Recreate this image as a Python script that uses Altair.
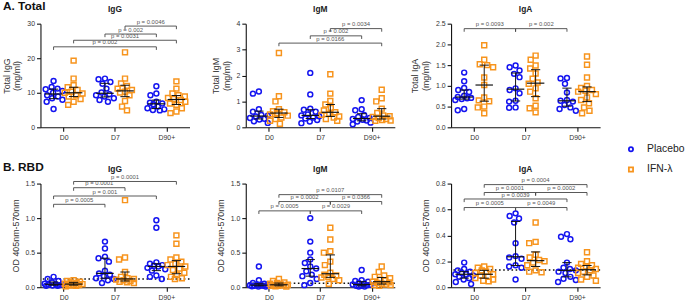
import math
import altair as alt
import pandas as pd

DAYS = ["D0", "D7", "D90+"]
GROUPS = ["Placebo", "IFN-λ"]
COLORS = ["#1414f0", "#f7941d"]
SHAPES = ["circle", "square"]

# ---------------- A. Total (mg/ml) ----------------
total_igg_placebo = {
    "D0": [13.4, 11.7, 11.2, 11.0, 10.5, 10.0, 9.3, 8.9, 8.4, 8.0, 7.4, 5.3],
    "D7": [14.1, 13.9, 13.1, 12.6, 11.2, 10.1, 9.6, 9.3, 8.9, 8.4, 7.9, 7.4],
    "D90+": [11.9, 9.8, 9.3, 7.4, 7.1, 6.9, 6.7, 6.0, 5.5, 5.2, 5.0, 4.9],
}
total_igg_ifn = {
    "D0": [19.3, 14.1, 12.2, 11.6, 10.8, 10.3, 10.0, 9.8, 9.3, 8.9, 8.2, 7.4, 6.5],
    "D7": [21.7, 14.1, 12.7, 12.0, 11.2, 10.8, 10.3, 10.1, 9.3, 7.6, 6.0, 4.9],
    "D90+": [13.3, 11.2, 9.8, 9.3, 8.9, 8.5, 8.2, 7.9, 7.4, 6.9, 6.5, 5.5, 4.6, 4.1],
}
total_igm_placebo = {
    "D0": [1.38, 1.30, 0.70, 0.60, 0.48, 0.45, 0.42, 0.36, 0.33, 0.30, 0.23, 0.17],
    "D7": [2.10, 1.27, 0.72, 0.68, 0.60, 0.50, 0.46, 0.43, 0.38, 0.34, 0.28, 0.22, 0.16],
    "D90+": [1.05, 0.70, 0.66, 0.48, 0.40, 0.36, 0.32, 0.29, 0.26, 0.22, 0.18, 0.12],
}
total_igm_ifn = {
    "D0": [2.87, 1.20, 1.00, 0.70, 0.62, 0.58, 0.55, 0.50, 0.45, 0.38, 0.32, 0.25, 0.14],
    "D7": [2.05, 1.30, 1.02, 0.88, 0.75, 0.65, 0.58, 0.52, 0.48, 0.42, 0.38, 0.32, 0.25],
    "D90+": [1.45, 1.12, 1.00, 0.72, 0.55, 0.46, 0.43, 0.40, 0.36, 0.32, 0.28, 0.26, 0.25],
}
total_iga_placebo = {
    "D0": [1.32, 1.11, 0.95, 0.90, 0.85, 0.76, 0.73, 0.71, 0.70, 0.68, 0.66, 0.44, 0.41],
    "D7": [1.49, 1.45, 1.37, 1.29, 1.21, 0.94, 0.90, 0.82, 0.64, 0.62, 0.48, 0.47],
    "D90+": [1.19, 1.18, 1.05, 0.84, 0.66, 0.64, 0.62, 0.54, 0.48, 0.44, 0.40],
}
total_iga_ifn = {
    "D0": [1.98, 1.63, 1.52, 1.50, 1.45, 1.20, 1.02, 0.72, 0.65, 0.63, 0.50, 0.48, 0.34],
    "D7": [1.73, 1.63, 1.49, 1.42, 1.30, 1.17, 1.08, 1.05, 0.94, 0.86, 0.70, 0.52, 0.46, 0.36],
    "D90+": [1.71, 1.51, 1.20, 1.00, 0.95, 0.90, 0.88, 0.86, 0.80, 0.72, 0.66, 0.58, 0.48, 0.40, 0.34],
}

# ---------------- B. RBD (OD 405nm-570nm) ----------------
rbd_igg_placebo = {
    "D0": [0.15, 0.12, 0.09, 0.07, 0.05, 0.045, 0.04, 0.035, 0.03, 0.025, 0.02, 0.02],
    "D7": [0.66, 0.56, 0.44, 0.42, 0.37, 0.24, 0.20, 0.18, 0.16, 0.13, 0.12, 0.10, 0.06],
    "D90+": [0.97, 0.86, 0.36, 0.34, 0.32, 0.31, 0.30, 0.28, 0.26, 0.24, 0.17, 0.15, 0.12],
}
rbd_igg_ifn = {
    "D0": [0.10, 0.09, 0.08, 0.07, 0.06, 0.05, 0.045, 0.04, 0.035, 0.03, 0.025, 0.02, 0.015],
    "D7": [1.26, 0.43, 0.40, 0.22, 0.15, 0.13, 0.12, 0.11, 0.10, 0.09, 0.08, 0.07, 0.06],
    "D90+": [0.75, 0.63, 0.43, 0.40, 0.37, 0.34, 0.32, 0.30, 0.27, 0.25, 0.21, 0.18, 0.15, 0.13, 0.12],
}
rbd_igm_placebo = {
    "D0": [0.30, 0.10, 0.06, 0.05, 0.04, 0.03, 0.03, 0.025, 0.02, 0.02, 0.015, 0.01, 0.01],
    "D7": [1.00, 0.66, 0.50, 0.40, 0.35, 0.30, 0.27, 0.23, 0.18, 0.16, 0.12, 0.06, 0.03],
    "D90+": [0.25, 0.10, 0.09, 0.08, 0.06, 0.05, 0.04, 0.035, 0.03, 0.02, 0.02, 0.01, 0.01],
}
rbd_igm_ifn = {
    "D0": [0.12, 0.09, 0.07, 0.06, 0.05, 0.04, 0.035, 0.03, 0.025, 0.02, 0.02, 0.015, 0.01],
    "D7": [0.86, 0.69, 0.52, 0.50, 0.37, 0.32, 0.21, 0.18, 0.17, 0.15, 0.14, 0.12, 0.10, 0.05],
    "D90+": [0.30, 0.22, 0.17, 0.15, 0.13, 0.11, 0.10, 0.08, 0.07, 0.06, 0.05, 0.04, 0.03, 0.03, 0.02],
}
rbd_iga_placebo = {
    "D0": [0.19, 0.14, 0.13, 0.12, 0.11, 0.10, 0.10, 0.09, 0.08, 0.07, 0.06, 0.04, 0.025],
    "D7": [0.57, 0.55, 0.53, 0.50, 0.34, 0.24, 0.23, 0.22, 0.17, 0.16, 0.15, 0.06],
    "D90+": [0.41, 0.39, 0.37, 0.19, 0.15, 0.14, 0.13, 0.12, 0.11, 0.08, 0.065, 0.056, 0.04],
}
rbd_iga_ifn = {
    "D0": [0.16, 0.15, 0.14, 0.13, 0.12, 0.11, 0.10, 0.09, 0.08, 0.07, 0.06, 0.05, 0.045],
    "D7": [0.50, 0.35, 0.34, 0.25, 0.23, 0.21, 0.20, 0.19, 0.17, 0.13, 0.12, 0.115],
    "D90+": [0.27, 0.20, 0.18, 0.17, 0.16, 0.15, 0.14, 0.13, 0.12, 0.11, 0.09, 0.08, 0.06, 0.05],
}

# significance brackets: (day1, group1, day2, group2, level, label)
total_igg_brackets = [
    ("D7", "IFN-λ", "D90+", "IFN-λ", 29.3, "p = 0.0046"),
    ("D7", "Placebo", "D90+", "Placebo", 27.0, "p = 0.002"),
    ("D0", "IFN-λ", "D90+", "IFN-λ", 25.2, "p = 0.0031"),
    ("D0", "Placebo", "D90+", "Placebo", 23.3, "p = 0.002"),
]
total_igm_brackets = [
    ("D7", "IFN-λ", "D90+", "IFN-λ", 3.81, "p = 0.0034"),
    ("D7", "Placebo", "D90+", "Placebo", 3.53, "p = 0.002"),
    ("D0", "IFN-λ", "D90+", "IFN-λ", 3.25, "p = 0.0166"),
]
total_iga_brackets = [
    ("D0", "Placebo", "D7", "Placebo", 2.38, "p = 0.0093"),
    ("D7", "Placebo", "D90+", "Placebo", 2.38, "p = 0.002"),
]
rbd_igg_brackets = [
    ("D0", "IFN-λ", "D90+", "IFN-λ", 1.53, "p = 0.0001"),
    ("D0", "IFN-λ", "D7", "IFN-λ", 1.44, "p = 0.0001"),
    ("D0", "Placebo", "D90+", "Placebo", 1.32, "p = 0.001"),
    ("D0", "Placebo", "D7", "Placebo", 1.20, "p = 0.0005"),
]
rbd_igm_brackets = [
    ("D0", "IFN-λ", "D90+", "IFN-λ", 1.34, "p = 0.0107"),
    ("D0", "IFN-λ", "D7", "IFN-λ", 1.24, "p = 0.0002"),
    ("D7", "IFN-λ", "D90+", "IFN-λ", 1.24, "p = 0.0366"),
    ("D0", "Placebo", "D7", "Placebo", 1.105, "p = 0.0005"),
    ("D7", "Placebo", "D90+", "Placebo", 1.105, "p = 0.0029"),
]
rbd_iga_brackets = [
    ("D0", "IFN-λ", "D90+", "IFN-λ", 0.792, "p = 0.0004"),
    ("D0", "IFN-λ", "D7", "IFN-λ", 0.731, "p = 0.0001"),
    ("D7", "IFN-λ", "D90+", "IFN-λ", 0.731, "p = 0.0002"),
    ("D0", "Placebo", "D90+", "Placebo", 0.681, "p = 0.0039"),
    ("D0", "Placebo", "D7", "Placebo", 0.615, "p = 0.0005"),
    ("D7", "Placebo", "D90+", "Placebo", 0.615, "p = 0.0049"),
]

PANELS = [
    dict(title="IgG", ytitle=["Total IgG", "(mg/ml)"], ymax=30, ticks=[0, 10, 20, 30], fmt="d",
         pl=total_igg_placebo, ifn=total_igg_ifn, br=total_igg_brackets, thr=None,
         row="A. Total", row_y=-14),
    dict(title="IgM", ytitle=["Total IgM", "(mg/ml)"], ymax=4, ticks=[0, 1, 2, 3, 4], fmt="d",
         pl=total_igm_placebo, ifn=total_igm_ifn, br=total_igm_brackets, thr=None, row=None),
    dict(title="IgA", ytitle=["Total IgA", "(mg/ml)"], ymax=2.5, ticks=[0, 0.5, 1.0, 1.5, 2.0, 2.5], fmt=".1f",
         pl=total_iga_placebo, ifn=total_iga_ifn, br=total_iga_brackets, thr=None, row=None),
    dict(title="IgG", ytitle="OD 405nm-570nm", ymax=1.5, ticks=[0, 0.5, 1.0, 1.5], fmt=".1f",
         pl=rbd_igg_placebo, ifn=rbd_igg_ifn, br=rbd_igg_brackets, thr=0.12,
         row="B. RBD", row_y=-13),
    dict(title="IgM", ytitle="OD 405nm-570nm", ymax=1.5, ticks=[0, 0.5, 1.0, 1.5], fmt=".1f",
         pl=rbd_igm_placebo, ifn=rbd_igm_ifn, br=rbd_igm_brackets, thr=0.057, row=None),
    dict(title="IgA", ytitle="OD 405nm-570nm", ymax=0.8, ticks=[0, 0.2, 0.4, 0.6, 0.8], fmt=".1f",
         pl=rbd_iga_placebo, ifn=rbd_iga_ifn, br=rbd_iga_brackets, thr=0.132, row=None),
]

W, H = 151, 105
XDOM = [-0.45, 2.45]
PPU = W / (XDOM[1] - XDOM[0])
GOFF = {"Placebo": -0.195, "IFN-λ": 0.195}
EB = "#111111"
BC = "#444444"


def swarm(values, ymax, diam=6.2, maxoff=9.0):
    """Deterministic beeswarm offsets (pixels -> data units)."""
    order = sorted(range(len(values)), key=lambda i: -values[i])
    placed = []
    offs = [0.0] * len(values)
    cands = [0.0]
    k = 0.5
    while k <= maxoff:
        cands += [-k, k]
        k += 0.5
    for i in order:
        y = values[i] / ymax * H
        best, bestd = None, -1
        for c in cands:
            d = min([math.hypot(c - px, y - py) for px, py in placed] or [99])
            if d >= diam:
                best = c
                break
            if d > bestd:
                bestd, best = d, c
        placed.append((best, y))
        offs[i] = best / PPU
    return offs


def make_panel(p):
    rows = []
    for g, data in ((GROUPS[0], p["pl"]), (GROUPS[1], p["ifn"])):
        for di, d in enumerate(DAYS):
            vals = data[d]
            center = di + GOFF[g]
            for v, o in zip(vals, swarm(vals, p["ymax"])):
                rows.append(dict(day=d, group=g, value=v, center=center, xpos=center + o))
    df = pd.DataFrame(rows)

    brows = []
    for d1, g1, d2, g2, lvl, lab in p["br"]:
        x1 = DAYS.index(d1) + GOFF[g1]
        x2 = DAYS.index(d2) + GOFF[g2]
        brows.append(dict(x1=x1, x2=x2, mid=(x1 + x2) / 2, level=lvl,
                          low=lvl - 0.03 * p["ymax"], label=lab))
    bdf = pd.DataFrame(brows)

    xs = alt.Scale(domain=XDOM, nice=False, zero=False)
    xax = alt.Axis(values=[0, 1, 2], title=None,
                   labelExpr="datum.value == 0 ? 'D0' : datum.value == 1 ? 'D7' : 'D90+'")
    ys = alt.Scale(domain=[0, p["ymax"]], nice=False, zero=True)
    yax = alt.Axis(values=p["ticks"], format=p["fmt"], title=p["ytitle"])

    def X(f):
        return alt.X(f + ":Q", scale=xs, axis=xax)

    def Y(f):
        return alt.Y(f + ":Q", scale=ys, axis=yax)

    leg = alt.Legend(title=None, orient="none", legendX=593, legendY=122,
                     labelFontSize=10.5, labelColor="#222", symbolSize=18,
                     symbolStrokeWidth=1.8, rowPadding=8.5, labelOffset=11)

    layers = []
    if p["thr"] is not None:
        layers.append(alt.Chart(pd.DataFrame({"t": [p["thr"]]}))
                      .mark_rule(strokeDash=[1.6, 2.6], color="#111", strokeWidth=1.5)
                      .encode(y=Y("t")))
    layers.append(alt.Chart(df).mark_point(filled=False, size=25, strokeWidth=1.5, opacity=1).encode(
        x=X("xpos"), y=Y("value"),
        color=alt.Color("group:N", scale=alt.Scale(domain=GROUPS, range=COLORS), legend=leg),
        shape=alt.Shape("group:N", scale=alt.Scale(domain=GROUPS, range=SHAPES), legend=leg),
    ))
    st = (alt.Chart(df)
          .transform_aggregate(med="median(value)", q1="q1(value)", q3="q3(value)", groupby=["center"])
          .transform_calculate(ml="datum.center - 0.17", mr="datum.center + 0.17",
                               cl="datum.center - 0.09", cr="datum.center + 0.09"))
    layers += [
        st.mark_rule(color=EB, strokeWidth=1).encode(x=X("center"), y=Y("q1"), y2="q3:Q"),
        st.mark_rule(color=EB, strokeWidth=1.2).encode(x=X("ml"), x2="mr:Q", y=Y("med")),
        st.mark_rule(color=EB, strokeWidth=1).encode(x=X("cl"), x2="cr:Q", y=Y("q3")),
        st.mark_rule(color=EB, strokeWidth=1).encode(x=X("cl"), x2="cr:Q", y=Y("q1")),
    ]
    bk = alt.Chart(bdf)
    layers += [
        bk.mark_rule(color=BC, strokeWidth=0.9).encode(x=X("x1"), x2="x2:Q", y=Y("level")),
        bk.mark_rule(color=BC, strokeWidth=0.9).encode(x=X("x1"), y=Y("level"), y2="low:Q"),
        bk.mark_rule(color=BC, strokeWidth=0.9).encode(x=X("x2"), y=Y("level"), y2="low:Q"),
        bk.mark_text(fontSize=6, color="#555", baseline="bottom", dy=-1.5).encode(
            x=X("mid"), y=Y("level"), text="label:N"),
    ]
    # panel heading (antibody class), centred just above the plot area
    layers.append(alt.Chart(pd.DataFrame({"s": [p["title"]]})).mark_text(
        fontSize=8.5, fontWeight="bold", color="#222", align="center", baseline="middle").encode(
        x=alt.value(W / 2), y=alt.value(-14.5), text="s:N"))
    if p["row"]:
        # section heading ("A. Total" / "B. RBD") at the panel's top-left
        layers.append(alt.Chart(pd.DataFrame({"s": [p["row"]]})).mark_text(
            fontSize=12, fontWeight="bold", color="#111", align="left", baseline="alphabetic").encode(
            x=alt.value(-38), y=alt.value(p["row_y"]), text="s:N"))
    return alt.layer(*layers).properties(width=W, height=H)


chart = (
    alt.concat(*[make_panel(p) for p in PANELS], columns=3,
               spacing={"row": 57, "column": 57}, bounds="flush")
    .properties(padding={"left": 2, "top": -2, "right": 0, "bottom": 0})
    .configure(font="Liberation Sans")
    .configure_view(stroke=None)
    .configure_axis(grid=False, domainColor="#111", domainWidth=1.1, tickColor="#111", tickWidth=1.1,
                    tickSize=4, labelFontSize=7, labelColor="#333", labelPadding=2,
                    titleFontSize=9, titleFontWeight="normal", titleColor="#333", titlePadding=5)
)

chart.save("out.html", embed_options={"renderer": "svg", "actions": False})
